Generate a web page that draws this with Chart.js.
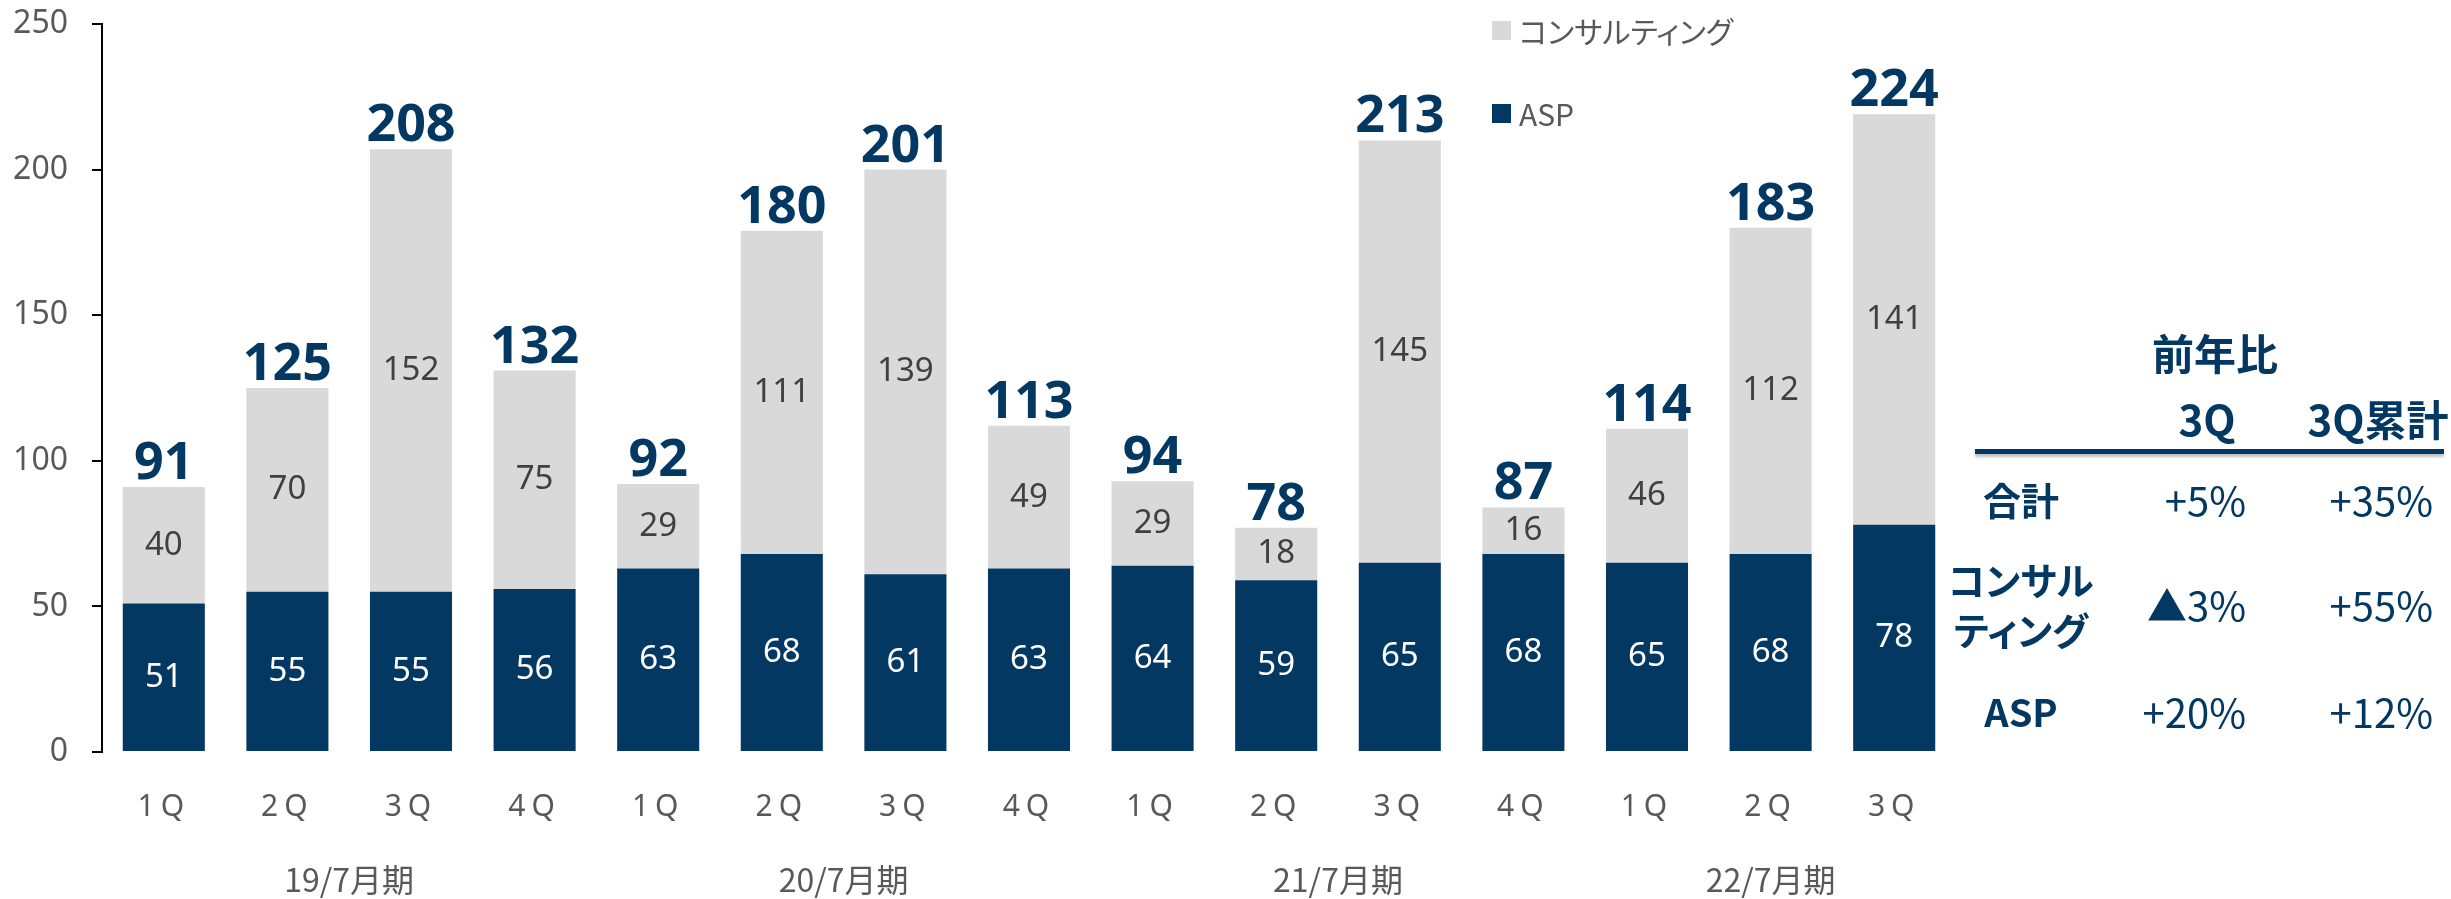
<!DOCTYPE html>
<html lang="ja">
<head>
<meta charset="utf-8">
<script src="https://cdn.jsdelivr.net/npm/chart.js@4.4.1/dist/chart.umd.min.js"></script>
<style>
  body { margin: 0; background: #fff; }
  #wrap { position: relative; width: 2451px; height: 899px; }
  .t { position: absolute; color: #033862; font-family: "Noto Sans CJK JP", "Noto Sans", sans-serif;
       white-space: nowrap; line-height: 1; font-feature-settings: "palt"; }
  .c { transform: translate(-50%, -50%); text-align: center; }
  .r { transform: translateY(-50%); text-align: right; }
  .head { font-size: 42px; font-weight: bold; }
  .row { font-size: 38px; font-weight: bold; line-height: 50px; }
  .val { font-size: 40px; }
  .rule { position: absolute; left: 1975px; top: 449px; width: 469px; height: 5px; background: #033862;
          box-shadow: 0 3px 3px rgba(0,0,0,0.25); }
  .leg { position: absolute; left: 1492px; font-family: "Noto Sans CJK JP", sans-serif; font-size: 30px;
         color: #595959; line-height: 1; font-feature-settings: "palt"; display: flex; align-items: center;
         transform: translateY(-50%); }
  .leg i { display: inline-block; width: 19px; height: 19px; margin-right: 8px; }
</style>
</head>
<body>
<div id="wrap">
  <canvas id="chart" width="2451" height="899"></canvas>
</div>
<script>
// quarterly sales, stacked (ASP + consulting), with printed totals
const quarters = ['1Q','2Q','3Q','4Q','1Q','2Q','3Q','4Q','1Q','2Q','3Q','4Q','1Q','2Q','3Q'];
const periods = ['19/7月期','20/7月期','21/7月期','22/7月期'];
const periodSizes = [4, 4, 4, 3];
const asp = [51,55,55,56,63,68,61,63,64,59,65,68,65,68,78];
const consulting = [40,70,152,75,29,111,139,49,29,18,145,16,46,112,141];
const totals = [91,125,208,132,92,180,201,113,94,78,213,87,114,183,224];
const yTicks = [0, 50, 100, 150, 200, 250];

// 前年比 table
const yoyHead = ['3Q', '3Q累計'];
const yoyRows = ['合計', 'コンサル<br>ティング', 'ASP'];
const yoy3Q = ['+5%', '▲3%', '+20%'];
const yoyCum = ['+35%', '+55%', '+12%'];

const NAVY = '#033862';
const GREY = '#d9d9d9';

// group label positions = middle of each period's bars
const periodCenters = [];
let start = 0;
periodSizes.forEach(n => { periodCenters.push(start + (n - 1) / 2); start += n; });

const labelColors = ['#ffffff', '#404040'];

const barLabels = {
  id: 'barLabels',
  afterDatasetsDraw(chart) {
    const ctx = chart.ctx;
    ctx.save();
    ctx.textAlign = 'center';
    ctx.textBaseline = 'middle';
    ctx.font = '33px "Noto Sans", sans-serif';
    chart.data.datasets.forEach((ds, i) => {
      ctx.fillStyle = labelColors[i];
      chart.getDatasetMeta(i).data.forEach((bar, j) => {
        ctx.fillText(ds.data[j], bar.x, (bar.y + bar.base) / 2);
      });
    });
    const topMeta = chart.getDatasetMeta(chart.data.datasets.length - 1);
    ctx.font = 'bold 52px "Noto Sans", sans-serif';
    ctx.fillStyle = NAVY;
    ctx.textBaseline = 'alphabetic';
    topMeta.data.forEach((bar, j) => ctx.fillText(totals[j], bar.x, bar.y - 8));
    ctx.restore();
  }
};

// spaced-out quarter labels: only the x tick layer (z 0) is drawn before datasets
const tickSpacing = {
  id: 'tickSpacing',
  beforeDraw(chart) { chart.ctx.letterSpacing = '6px'; },
  beforeDatasetsDraw(chart) { chart.ctx.letterSpacing = '0px'; }
};

const chart = new Chart(document.getElementById('chart'), {
  type: 'bar',
  data: {
    labels: quarters,
    datasets: [
      { label: 'ASP', data: asp, backgroundColor: NAVY },
      { label: 'コンサルティング', data: consulting, backgroundColor: GREY }
    ]
  },
  options: {
    responsive: false,
    animation: false,
    events: [],
    barPercentage: 0.664,
    categoryPercentage: 1,
    layout: { padding: { top: 24, right: 495, left: 0, bottom: 0 } },
    plugins: { legend: { display: false }, tooltip: { enabled: false } },
    scales: {
      x: {
        stacked: true,
        grid: { display: false, drawTicks: false },
        border: { display: false },
        ticks: { color: '#595959', font: { family: '"Noto Sans", sans-serif', size: 30 },
                 padding: 37, maxRotation: 0, autoSkip: false },
        afterFit(s) { s.height = 75; }
      },
      x2: {
        type: 'linear', position: 'bottom', weight: 1, bounds: 'data', offset: false,
        min: -0.5, max: quarters.length - 0.5,
        grid: { display: false, drawTicks: false, offset: false },
        border: { display: false },
        afterBuildTicks(s) { s.ticks = periodCenters.map(v => ({ value: v })); },
        ticks: { z: 1, color: '#595959', font: { family: '"Noto Sans CJK JP", sans-serif', size: 32 },
                 padding: 34, maxRotation: 0, autoSkip: false,
                 callback: (v, i) => periods[i] },
        afterFit(s) { s.height = 72; }
      },
      y: {
        stacked: true,
        min: yTicks[0], max: yTicks[yTicks.length - 1],
        afterBuildTicks(s) { s.ticks = yTicks.map(v => ({ value: v })); },
        grid: { drawOnChartArea: false, drawTicks: true, tickLength: 10, color: '#000', lineWidth: 2 },
        border: { color: '#000', width: 2 },
        ticks: { z: 1, color: '#595959', font: { family: '"Noto Sans", sans-serif', size: 32 }, padding: 24 },
        afterFit(s) { s.width = 102; s.paddingTop = 0; s.paddingBottom = 0; }
      }
    }
  },
  plugins: [tickSpacing, barLabels]
});

// legend (top of chart, consulting above ASP)
const wrap = document.getElementById('wrap');
const legY = [30, 113];
chart.data.datasets.slice().reverse().forEach((ds, i) => {
  const d = document.createElement('div');
  d.className = 'leg';
  d.style.top = legY[i] + 'px';
  d.innerHTML = '<i style="background:' + ds.backgroundColor + '"></i>' + ds.label;
  wrap.appendChild(d);
});

// 前年比 table; right = true anchors the text's right edge at x
function put(html, cls, x, y, right) {
  const d = document.createElement('div');
  d.className = 't ' + cls + (right ? ' r' : ' c');
  d.innerHTML = html;
  if (right) d.style.right = (2451 - x) + 'px';
  else d.style.left = x + 'px';
  d.style.top = y + 'px';
  wrap.appendChild(d);
}
put('前年比', 'head', 2215, 352);
put(yoyHead[0], 'head', 2207, 418);
put(yoyHead[1], 'head', 2378, 418);
const rule = document.createElement('div');
rule.className = 'rule';
wrap.appendChild(rule);
const rowY = [499, 604, 711];
yoyRows.forEach((r, i) => {
  put(r, 'row', 2021, rowY[i]);
  put(yoy3Q[i], 'val', 2246, rowY[i], true);
  put(yoyCum[i], 'val', 2433, rowY[i], true);
});
</script>
</body>
</html>
